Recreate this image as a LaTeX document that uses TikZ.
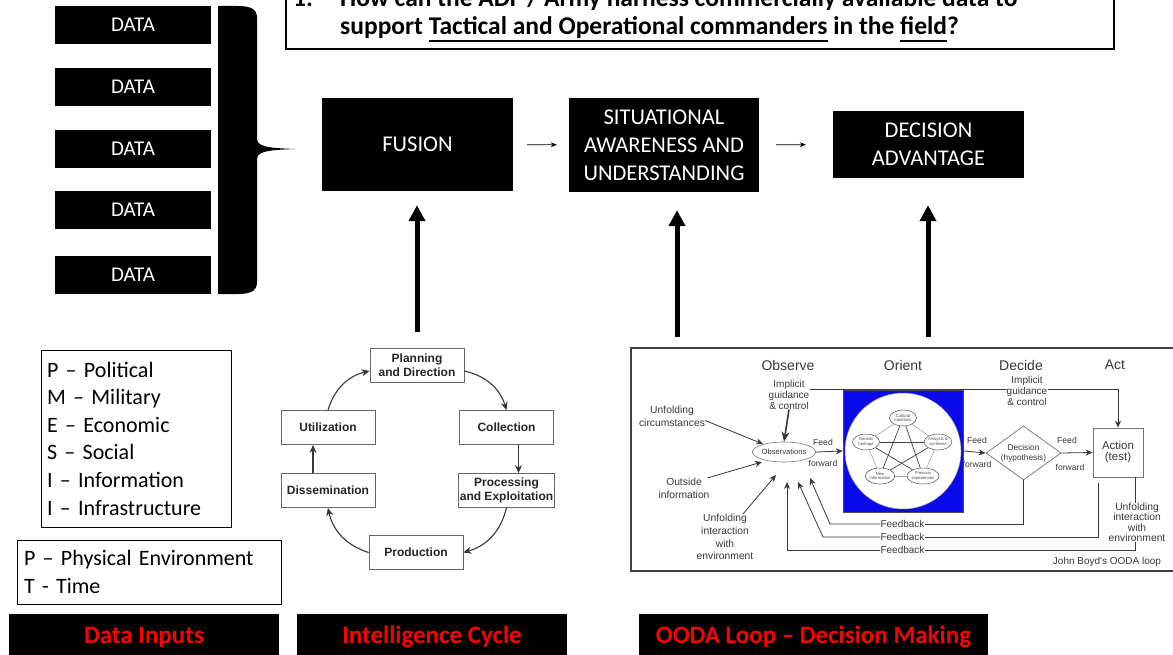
\documentclass[tikz,border=0pt]{standalone}
\usepackage{fontspec}
\setmainfont{Carlito}
\newfontfamily\arialfont{Liberation Sans}
\usetikzlibrary{arrows.meta, shapes.geometric}

% underline at a fixed depth
\newcommand{\qunder}[1]{\setbox0\hbox{#1}\rlap{\rule[-7pt]{\wd0}{1.8pt}}\box0\relax}

\definecolor{orientblue}{RGB}{10,10,235}
\definecolor{loopgray}{RGB}{55,55,55}

\tikzset{
  databox/.style={fill=black, text=white, minimum width=156pt, minimum height=38pt, inner sep=0pt,
    font=\fontsize{21}{24}\selectfont},
  stagebox/.style={fill=black, text=white, align=center, inner sep=0pt,
    font=\fontsize{22.5}{28}\selectfont},
  listbox/.style={draw, line width=0.9pt, align=left, inner sep=0pt,
    font=\fontsize{22}{27.6}\selectfont},
  captionbar/.style={fill=black, text=red, minimum height=46pt, inner sep=0pt,
    font=\bfseries\fontsize{25}{28}\selectfont},
  qtext/.style={inner sep=0pt, font=\bfseries\fontsize{25.5}{28}\selectfont},
  smallarrow/.style={line width=0.9pt, -{Stealth[length=6pt, width=5pt]}},
  bigarrow/.style={line width=5pt, -{Triangle[length=16pt, width=16pt]}},
  % intelligence cycle
  cyclebox/.style={draw=black!60, line width=0.8pt, fill=white, minimum width=94pt, minimum height=34pt,
    align=center, inner sep=1pt, text=black!85, font=\arialfont\bfseries\fontsize{12}{14}\selectfont},
  cyclearrow/.style={draw=loopgray, line width=1.1pt, -{Stealth[length=8pt, width=7pt]}},
  % OODA loop
  oodatext/.style={inner sep=0pt, align=center, text=loopgray, font=\arialfont\fontsize{10.3}{12.7}\selectfont},
  oodahead/.style={inner sep=0pt, text=loopgray, font=\arialfont\fontsize{14}{16}\selectfont},
  feedtext/.style={inner sep=0pt, text=loopgray, font=\arialfont\fontsize{8.6}{10}\selectfont},
  oodaline/.style={draw=loopgray, line width=0.8pt},
  oodaarrow/.style={oodaline, -{Stealth[length=7pt, width=6pt]}},
  traitnode/.style={ellipse, draw=black!70, line width=0.5pt, fill=white, minimum width=27pt, minimum height=16pt,
    inner sep=0pt, align=center, text=black!70, font=\arialfont\fontsize{4.2}{4.6}\selectfont},
}

\begin{document}
\begin{tikzpicture}[x=1pt, y=-1pt]
\useasboundingbox (0,0) rectangle (1173,655);

% data feeds and the brace
\foreach \y [count=\i] in {25,87,149,210,275}
  \node[databox] (data\i) at (133,\y) {DATA};
\fill (218,6) -- (238,6) .. controls (252,6) and (257,10) .. (257,18) -- (257,138)
  .. controls (257,146) and (264,148) .. (296,149) .. controls (264,150) and (257,152) .. (257,160)
  -- (257,282) .. controls (257,290) and (252,294) .. (238,294) -- (218,294) -- cycle;

% research question
\draw[line width=1.2pt] (286,-20) rectangle (1114,49);
\node[qtext, anchor=base west] (qnum) at (293,7) {1.};
\node[qtext, anchor=base west] (qline1) at (340,7) {How can the ADF / Army harness commercially available data to};
\node[qtext, anchor=base west] (qline2) at (340,35) {support \qunder{Tactical and Operational commanders} in the \qunder{field}?};

% fusion -> awareness -> advantage
\node[stagebox, minimum width=191pt, minimum height=93pt] (fusion) at (417.5,144.5) {FUSION};
\node[stagebox, minimum width=190pt, minimum height=94pt] (aware) at (664,145) {SITUATIONAL\\AWARENESS AND\\UNDERSTANDING};
\node[stagebox, minimum width=191pt, minimum height=67pt] (advantage) at (928.5,144.5) {DECISION\\ADVANTAGE};
\draw[smallarrow, shorten <=14pt, shorten >=12pt] (fusion) -- (aware);
\draw[smallarrow, shorten <=17pt, shorten >=27pt] (aware) -- (advantage);

% PMESII-PT lists
\node[listbox, minimum width=190pt, minimum height=177pt, text width=178pt] (pmesii) at (136,438.5)
  {P -- Political\\M -- Military\\E -- Economic\\S -- Social\\I -- Information\\I -- Infrastructure};
\node[listbox, minimum width=264pt, minimum height=64pt, text width=250pt] (pt) at (149,572)
  {P -- Physical Environment\\T - Time};

% captions
\node[captionbar, minimum width=270pt] (capdata) at (144,637) {Data Inputs};
\node[captionbar, minimum width=270pt] (capcycle) at (432,637) {Intelligence Cycle};
\node[captionbar, minimum width=349pt] (capooda) at (813.5,637) {OODA Loop -- Decision Making};

% intelligence cycle
\node[cyclebox] (plan) at (417,365) {Planning\\and Direction};
\node[cyclebox] (coll) at (506.5,427.5) {Collection};
\node[cyclebox] (proc) at (506.5,490.5) {Processing\\and Exploitation};
\node[cyclebox] (prod) at (416,552.5) {Production};
\node[cyclebox] (diss) at (328,490.5) {Dissemination};
\node[cyclebox] (util) at (328,427.5) {Utilization};
\draw[cyclearrow] ([yshift=-6pt]plan.east) to[bend left=30] (coll.north);
\draw[cyclearrow] ([xshift=12pt]coll.south) -- ([xshift=12pt]proc.north);
\draw[cyclearrow] (proc.south) to[bend left=30] (prod.east);
\draw[cyclearrow] (prod.west) to[bend left=30] (diss.south);
\draw[cyclearrow] ([xshift=-15pt]diss.north) -- ([xshift=-15pt]util.south);
\draw[cyclearrow] (util.north) to[bend left=30] ([yshift=-6pt]plan.west);

% OODA loop
\draw[draw=black!75, line width=1.2pt] (631,348) rectangle (1180,571);
\node[oodahead] (hobs) at (788,365) {Observe};
\node[oodahead] (hori) at (903,365) {Orient};
\node[oodahead] (hdec) at (1021,365) {Decide};
\node[oodahead] (hact) at (1115,365) {Act};

\node[ellipse, draw=black!55, line width=0.6pt, minimum width=54pt, minimum height=20pt, inner sep=0pt,
  text=loopgray, font=\arialfont\fontsize{7.6}{8}\selectfont] (obs) at (784,452) {Observations};
\node[rectangle, fill=orientblue, draw=black!70, line width=0.5pt, minimum width=120pt, minimum height=122pt] (orient) at (903,451) {};
\node[circle, fill=white, draw=black!40, line width=0.5pt, minimum size=116pt] (orientdisc) at (903,451) {};
\node[traitnode] (cult) at (903,418) {Cultural\\traditions};
\node[traitnode] (gene) at (866,442) {Genetic\\heritage};
\node[traitnode] (anal) at (938,442) {Analysis \&\\synthesis};
\node[traitnode] (newi) at (880,476) {New\\information};
\node[traitnode] (prev) at (923,476) {Previous\\experiences};
\foreach \a/\b in {cult/anal, anal/prev, prev/newi, newi/gene, gene/cult}
  \draw[black!35, line width=0.6pt] (\a) -- (\b);
\foreach \a/\b in {cult/prev, cult/newi, gene/anal, gene/prev, anal/newi}
  \draw[black!75, line width=0.7pt] (\a) -- (\b);

\node[diamond, draw=black!55, line width=0.7pt, aspect=1.39, minimum width=75pt, minimum height=54pt, inner sep=0pt,
  align=center, text=loopgray, font=\arialfont\fontsize{8.3}{10}\selectfont] (decision) at (1023.5,453) {Decision\\(hypothesis)};
\node[rectangle, draw=black!55, line width=0.8pt, minimum width=50pt, minimum height=49pt, inner sep=0pt,
  align=center, text=loopgray, font=\arialfont\fontsize{11.5}{11}\selectfont] (action) at (1118,452.5) {Action\\(test)};

% feed forward
\draw[oodaarrow] (obs.east) -- (orient.west);
\draw[oodaarrow] (orient.east) -- (decision.west);
\draw[oodaarrow] (decision.east) -- (action.west);
\node[feedtext] (ff1a) at (823,442) {Feed};
\node[feedtext] (ff1b) at (823,463) {forward};
\node[feedtext] (ff2a) at (977,440) {Feed};
\node[feedtext] (ff2b) at (977,464) {forward};
\node[feedtext] (ff3a) at (1067,440) {Feed};
\node[feedtext] (ff3b) at (1070,467) {forward};

% implicit guidance & control
\node[oodatext, font=\arialfont\fontsize{10}{10.7}\selectfont] (impl1) at (789,395) {Implicit\\guidance\\\& control};
\node[oodatext, font=\arialfont\fontsize{10}{10.7}\selectfont] (impl2) at (1027,391) {Implicit\\guidance\\\& control};
\draw[oodaline, line width=1.6pt, -{Stealth[length=10pt, width=8pt]}] (impl1.south) -- (obs.north);
\draw[oodaline] ([yshift=6pt]impl1.east) -- ([yshift=2pt]impl2.west);
\draw[oodaarrow] ([yshift=2pt]impl2.east) -| (action.north);

% outside inputs
\node[oodatext] (circ) at (672,416.5) {Unfolding\\circumstances};
\node[oodatext, font=\arialfont\fontsize{10.3}{13.3}\selectfont] (outside) at (684,488.5) {Outside\\information};
\node[oodatext] (interact) at (725,537) {Unfolding\\interaction\\with\\environment};
\coordinate (tipcirc) at (763,444);
\coordinate (tipout) at (762,462);
\coordinate (tipint) at (776,475);
\draw[oodaarrow] ([yshift=-4pt]circ.east) -- (tipcirc);
\draw[oodaarrow] ([xshift=-2pt]outside.north east) -- (tipout);
\draw[oodaarrow] ([xshift=18pt]interact.north) -- (tipint);

% feedback
\node[oodatext, font=\arialfont\fontsize{10}{12}\selectfont] (fbA) at (902.5,524) {Feedback};
\node[oodatext, font=\arialfont\fontsize{10}{12}\selectfont] (fbB) at (902.5,537) {Feedback};
\node[oodatext, font=\arialfont\fontsize{10}{12}\selectfont] (fbC) at (902.5,550) {Feedback};
\node[oodatext, font=\arialfont\fontsize{10.3}{10.4}\selectfont, fill=white] (interact2) at (1137,522.5) {Unfolding\\interaction\\with\\environment};
\coordinate (tipfbA) at (810,478);
\coordinate (tipfbB) at (798,482);
\coordinate (tipfbC) at (787,482);
\coordinate (endfbB) at (1098,483);
\draw[oodaarrow] (fbA.west) -- (830,524) -- (tipfbA);
\draw[oodaarrow] (fbB.west) -- (823,537) -- (tipfbB);
\draw[oodaarrow] (fbC.west) -| (tipfbC);
\draw[oodaline] (fbA.east) -| (decision.south);
\draw[oodaline] (fbB.east) -| (endfbB);
\draw[oodaline] (fbC.east) -| ([xshift=-2pt]interact2.south);
\draw[oodaline] ([xshift=-2pt]interact2.north) -- ([xshift=-2pt]interact2.north |- action.south);

\node[oodatext, font=\arialfont\fontsize{10}{12}\selectfont] (boyd) at (1107,562) {John Boyd's OODA loop};

% up to the top chain
\coordinate (oodaup1) at (677,337);
\coordinate (oodaup2) at (928,337);
\draw[bigarrow, shorten <=16pt, shorten >=14pt] (plan.north) -- (plan.north |- fusion.south);
\draw[bigarrow, shorten >=18pt] (oodaup1) -- (oodaup1 |- aware.south);
\draw[bigarrow, shorten >=27pt] (oodaup2) -- (oodaup2 |- advantage.south);

\end{tikzpicture}
\end{document}
